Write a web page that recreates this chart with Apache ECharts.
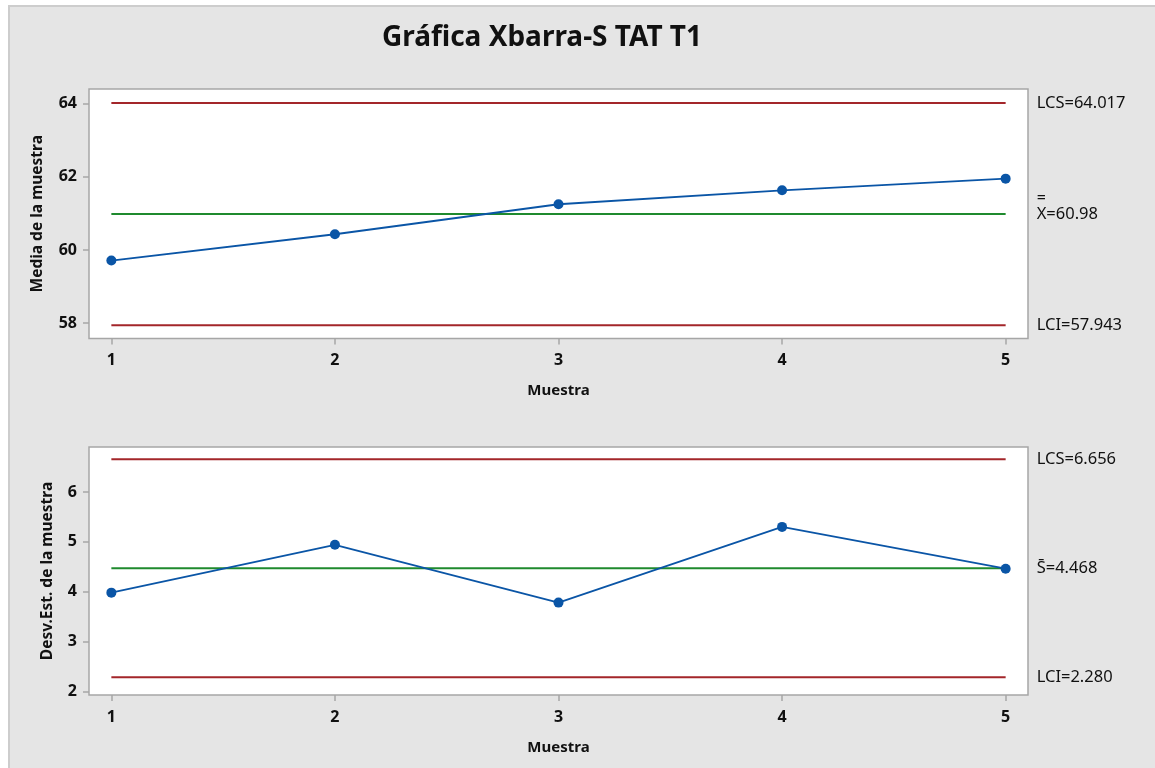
<!DOCTYPE html>
<html>
<head>
<meta charset="utf-8">
<title>Gráfica Xbarra-S TAT T1</title>
<script src="https://cdn.jsdelivr.net/npm/echarts@6/dist/echarts.min.js"></script>
<style>
  html, body { margin: 0; padding: 0; background: #ffffff; }
  #chart { width: 1155px; height: 768px; }
</style>
</head>
<body>
<div id="chart"></div>
<script>
// Subgroup numbers and the statistics plotted for each one
const samples = [1, 2, 3, 4, 5];
const sampleMeans = [59.71, 60.43, 61.25, 61.63, 61.95];
const sampleStdDevs = [3.98, 4.94, 3.78, 5.30, 4.46];

// Control limits: [LCS, centre line, LCI]
const xbarLimits = [64.017, 60.98, 57.943];
const sLimits = [6.656, 4.468, 2.280];

// Tick positions
const xbarTicks = [58, 60, 62, 64];
const sTicks = [2, 3, 4, 5, 6];
const sampleTicks = [1, 2, 3, 4, 5];

const FONT = '"Noto Sans", "Open Sans", sans-serif';
const RED = '#a3262a';
const GREEN = '#1f8a2e';
const BLUE = '#0a55a6';
const FRAME = '#a6a6a6';

const chart = echarts.init(document.getElementById('chart'), null, { renderer: 'canvas' });

function xAxisFor(gridIndex) {
  return {
    type: 'value', gridIndex: gridIndex,
    min: 0.9, max: 5.1,
    name: 'Muestra', nameLocation: 'middle', nameGap: 45,
    nameTextStyle: { fontFamily: FONT, fontWeight: 'bold', fontSize: 15, color: '#111' },
    axisLine: { show: false },
    axisTick: { show: true, customValues: sampleTicks, length: 6, lineStyle: { color: FRAME, width: 1.5 } },
    axisLabel: { customValues: sampleTicks, margin: 14, fontFamily: FONT, fontWeight: 'bold', fontSize: 16, color: '#111' },
    splitLine: { show: false }
  };
}

function yAxisFor(gridIndex, min, max, ticks, name, gap) {
  return {
    type: 'value', gridIndex: gridIndex,
    min: min, max: max,
    name: name, nameLocation: 'middle', nameGap: gap,
    nameTextStyle: { fontFamily: FONT, fontWeight: 'bold', fontSize: 15.5, color: '#111' },
    axisLine: { show: false },
    axisTick: { show: true, customValues: ticks, length: 6, lineStyle: { color: FRAME, width: 1.5 } },
    axisLabel: { customValues: ticks, margin: 12, fontFamily: FONT, fontWeight: 'bold', fontSize: 16, color: '#111' },
    splitLine: { show: false }
  };
}

// Horizontal control line spanning the first to the last subgroup, labelled at its right end
function limitLine(axisIndex, value, color, formatter, shiftUp) {
  return {
    type: 'line', xAxisIndex: axisIndex, yAxisIndex: axisIndex,
    data: [[samples[0], value], [samples[samples.length - 1], value]],
    symbol: 'none', silent: true, z: 2,
    lineStyle: { color: color, width: 2 },
    endLabel: {
      show: true, distance: 31, formatter: formatter, offset: [0, -(shiftUp || 0)],
      fontFamily: FONT, fontSize: 16.5, color: '#111', align: 'left', verticalAlign: 'middle',
      rich: {
        bar: { fontFamily: FONT, fontSize: 16, lineHeight: 14, color: '#111' },
        t: { fontFamily: FONT, fontSize: 16.5, lineHeight: 18, color: '#111' }
      }
    }
  };
}

function dataLine(axisIndex, values) {
  return {
    type: 'line', xAxisIndex: axisIndex, yAxisIndex: axisIndex,
    data: samples.map((s, i) => [s, values[i]]),
    symbol: 'circle', symbolSize: 10, z: 3,
    lineStyle: { color: BLUE, width: 1.8 },
    itemStyle: { color: BLUE }
  };
}

const option = {
  animation: false,
  backgroundColor: '#ffffff',
  graphic: [
    {
      type: 'rect', z: -10,
      shape: { x: 9, y: 6, width: 1160, height: 780 },
      style: { fill: '#e5e5e5', stroke: '#cdcdcd', lineWidth: 2 }
    },
    {
      type: 'text', z: 10,
      x: 542, y: 38,
      style: {
        text: 'Gráfica Xbarra-S TAT T1',
        fontFamily: FONT, fontWeight: 'bold', fontSize: 28, fill: '#111',
        align: 'center', verticalAlign: 'middle'
      }
    }
  ],
  grid: [
    { left: 89, top: 89, right: 127, height: 249.5, show: true, backgroundColor: '#ffffff', borderColor: FRAME, borderWidth: 1.5 },
    { left: 89, top: 447, right: 127, height: 248, show: true, backgroundColor: '#ffffff', borderColor: FRAME, borderWidth: 1.5 }
  ],
  xAxis: [xAxisFor(0), xAxisFor(1)],
  yAxis: [
    yAxisFor(0, 57.58, 64.40, xbarTicks, 'Media de la muestra', 43),
    yAxisFor(1, 1.926, 6.903, sTicks, 'Desv.Est. de la muestra', 33)
  ],
  series: [
    limitLine(0, xbarLimits[0], RED, p => 'LCS=' + xbarLimits[0].toFixed(3)),
    limitLine(0, xbarLimits[1], GREEN, p => '{bar|=}\n{t|X=' + xbarLimits[1].toFixed(2) + '}', 7),
    limitLine(0, xbarLimits[2], RED, p => 'LCI=' + xbarLimits[2].toFixed(3)),
    dataLine(0, sampleMeans),
    limitLine(1, sLimits[0], RED, p => 'LCS=' + sLimits[0].toFixed(3)),
    limitLine(1, sLimits[1], GREEN, p => 'S\u0304=' + sLimits[1].toFixed(3)),
    limitLine(1, sLimits[2], RED, p => 'LCI=' + sLimits[2].toFixed(3)),
    dataLine(1, sampleStdDevs)
  ]
};

chart.setOption(option);
</script>
</body>
</html>
